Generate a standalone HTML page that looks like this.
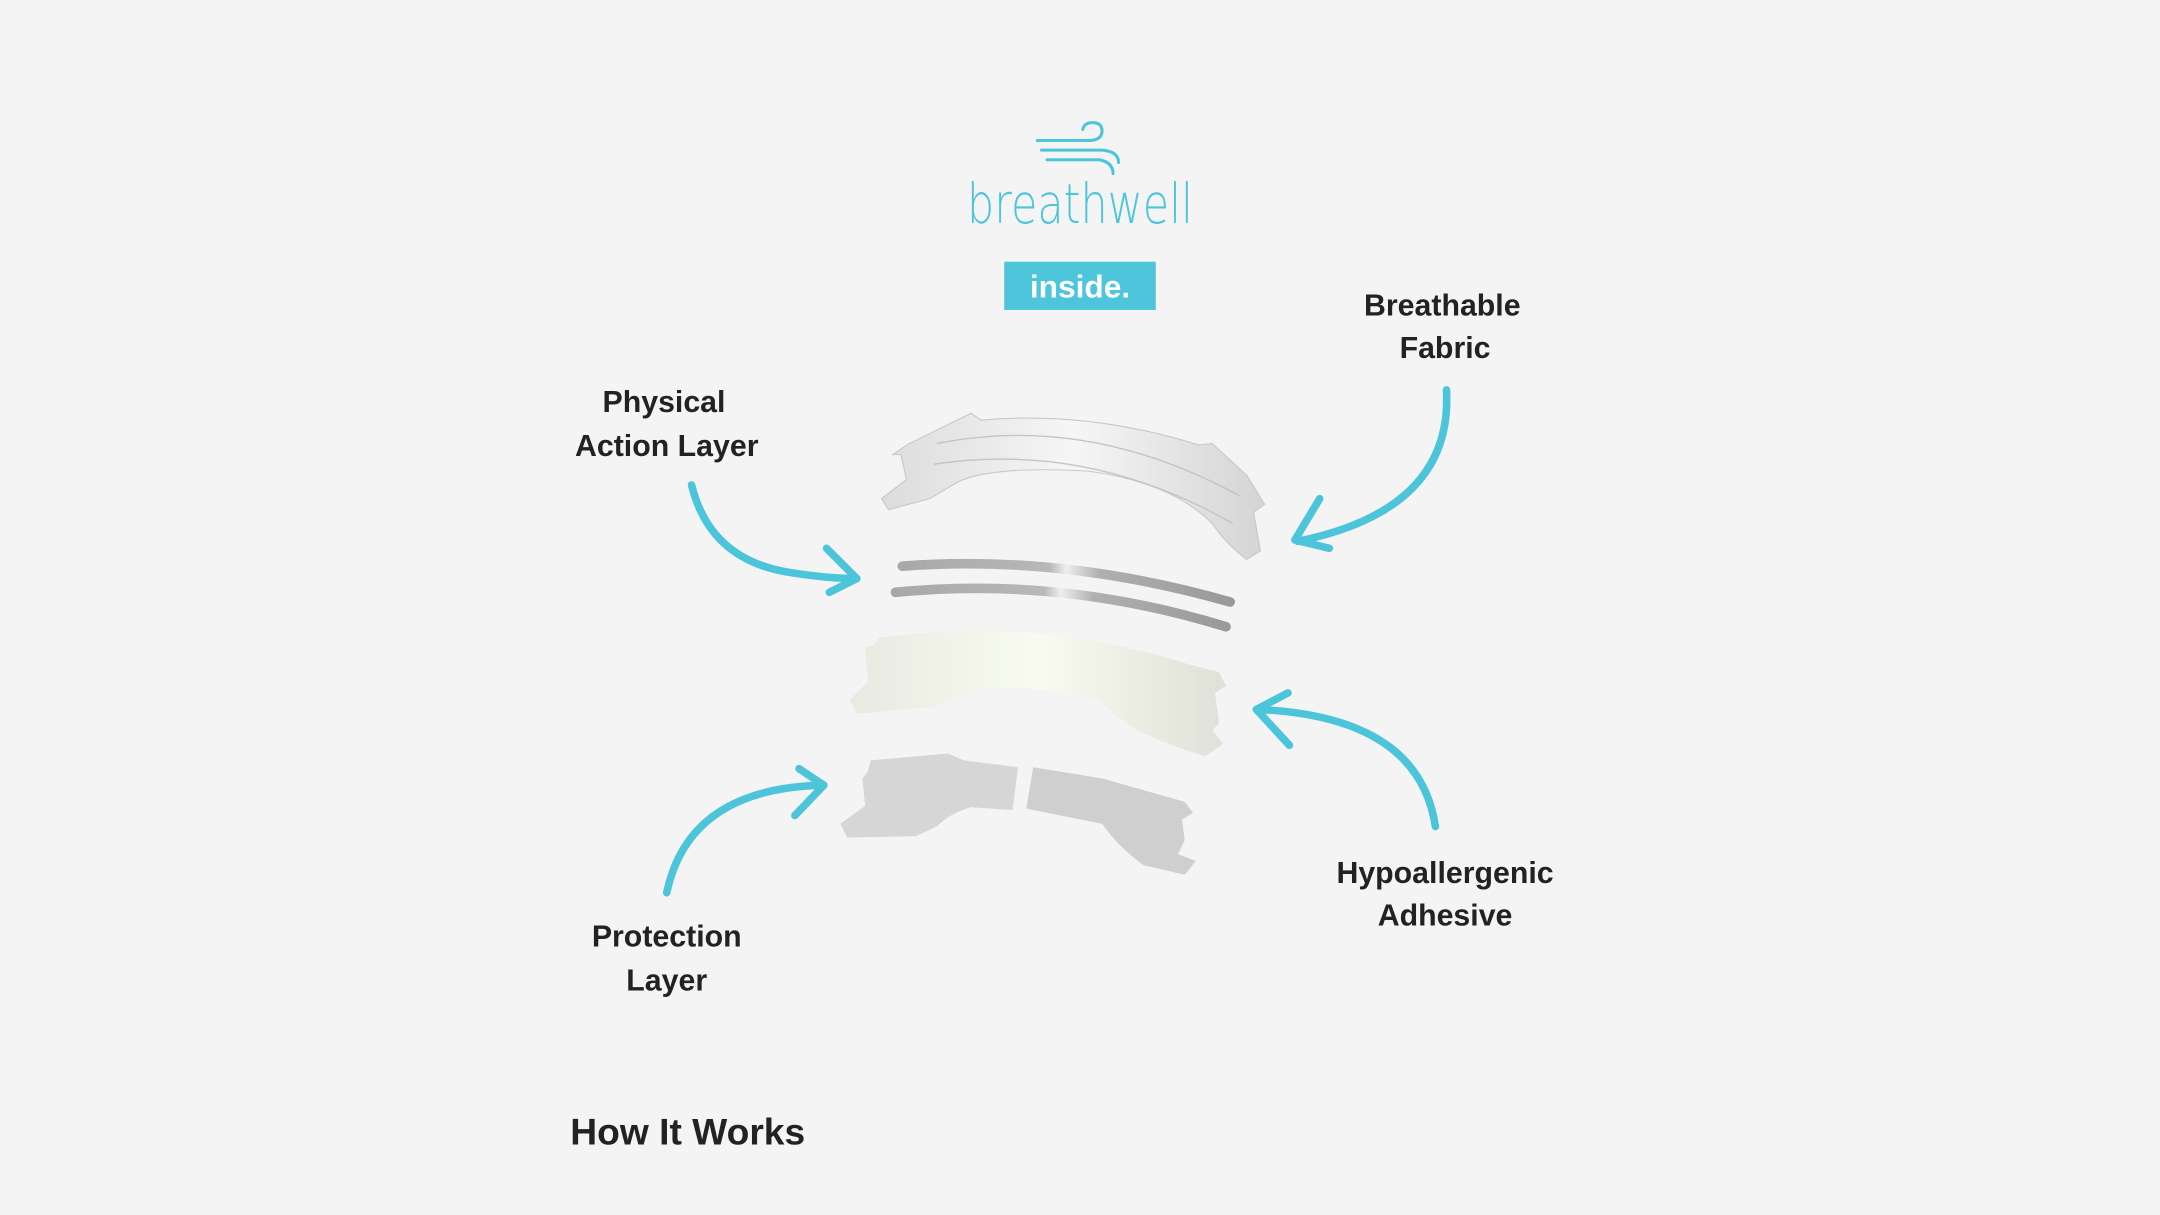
<!DOCTYPE html>
<html><head><meta charset="utf-8"><style>
html,body{margin:0;padding:0;background:#f4f4f4;}
svg{display:block}
text{font-family:"Liberation Sans",sans-serif;}
</style></head><body>
<svg width="2160" height="1215" viewBox="0 0 1568 882" xmlns="http://www.w3.org/2000/svg">
<defs>
<linearGradient id="st" x1="0" x2="1"><stop offset="0" stop-color="#a8a8a8"/><stop offset="0.45" stop-color="#b8b8b8"/><stop offset="0.5" stop-color="#eeeeee"/><stop offset="0.6" stop-color="#b0b0b0"/><stop offset="1" stop-color="#999"/></linearGradient>
<linearGradient id="ad" x1="0" x2="1"><stop offset="0" stop-color="#e8eae2"/><stop offset="0.5" stop-color="#f8fbef"/><stop offset="1" stop-color="#dfe1d8"/></linearGradient>
<linearGradient id="fb" x1="0" x2="1"><stop offset="0" stop-color="#dcdcdc"/><stop offset="0.5" stop-color="#f6f6f6"/><stop offset="1" stop-color="#d4d4d4"/></linearGradient>
</defs>
<rect width="1568" height="882" fill="#f4f4f4"/>
<g fill="none" stroke="#4cc5db" stroke-width="2.2" stroke-linecap="round">
<path d="M753,102 H790 Q800,102 800,95 Q800,89 793,89 Q787,89 786,94"/>
<path d="M756,109 H800 Q812,110 812,118"/>
<path d="M760,116 H798 Q808,118 808,126"/>
</g>
<text x="702" y="162" font-size="40" fill="#4cc5db" textLength="164" lengthAdjust="spacingAndGlyphs" style="font-family:'DejaVu Sans','Liberation Sans',sans-serif;font-weight:200">breathwell</text>
<rect x="729" y="190" width="110" height="35" fill="#4dc6dc"/>
<text x="784" y="216" text-anchor="middle" font-size="23" font-weight="bold" fill="#fff">inside.</text>
<g font-size="22" font-weight="bold" fill="#222" text-anchor="middle">
<text x="482" y="299">Physical</text><text x="484" y="331">Action Layer</text>
<text x="1047" y="229">Breathable</text><text x="1049" y="260">Fabric</text>
<text x="1049" y="641">Hypoallergenic</text><text x="1049" y="672">Adhesive</text>
<text x="484" y="687">Protection</text><text x="484" y="719">Layer</text>
</g>
<text x="414" y="831" font-size="27" font-weight="bold" fill="#222">How It Works</text>
<g fill="none" stroke="#4cc5db" stroke-width="5.5" stroke-linecap="round" stroke-linejoin="round">
<path d="M502,352 Q515,405 570,415 Q600,420 622,420"/>
<path d="M600,398 L622,420 L602,430"/>
<path d="M1050,283 Q1055,370 942,393"/>
<path d="M958,362 L940,392 L965,398"/>
<path d="M1042,600 Q1030,520 913,515"/>
<path d="M935,503 L912,515 L936,541"/>
<path d="M484,648 Q500,572 598,570"/>
<path d="M580,558 L598,570 L577,592"/>
</g>
<path d="M660,322 L705,300 L712,305 Q790,298 870,323 L880,322 L905,345 L918,366 L910,372 L915,400 L905,406 Q890,395 880,380 Q850,350 790,342 Q720,338 695,350 L675,362 L645,370 L640,362 L658,348 L654,330 L648,330 Z" fill="url(#fb)" stroke="#c8c8c8" stroke-width="0.8"/>
<path d="M680,322 Q790,300 900,360" fill="none" stroke="#c4c4c4" stroke-width="1"/>
<path d="M678,337 Q790,320 895,380" fill="none" stroke="#c4c4c4" stroke-width="1"/>
<path d="M655,411 Q770,402 893,437" fill="none" stroke="url(#st)" stroke-width="7" stroke-linecap="round"/>
<path d="M650,430 Q770,418 890,455" fill="none" stroke="url(#st)" stroke-width="7" stroke-linecap="round"/>
<path d="M638,463 Q700,455 760,460 Q820,468 862,482 L885,488 L890,498 L882,503 L885,525 L880,530 L888,540 L875,549 Q845,540 825,530 Q810,520 800,510 Q760,497 720,500 Q695,503 680,513 L622,518 L617,508 L630,495 L628,470 L635,468 Z" fill="url(#ad)"/>
<path d="M632,552 L688,547 L700,552 L739,557 L735,588 L705,586 Q690,590 680,600 L665,607 L615,608 L610,598 L628,585 L626,565 L630,560 Z" fill="#d6d6d6"/>
<path d="M750,557 L800,565 L835,575 L860,582 L866,590 L858,595 L860,610 L855,620 L868,625 L860,635 L830,628 Q812,615 800,598 L745,587 Z" fill="#cfcfcf"/>
</svg>
</body></html>
